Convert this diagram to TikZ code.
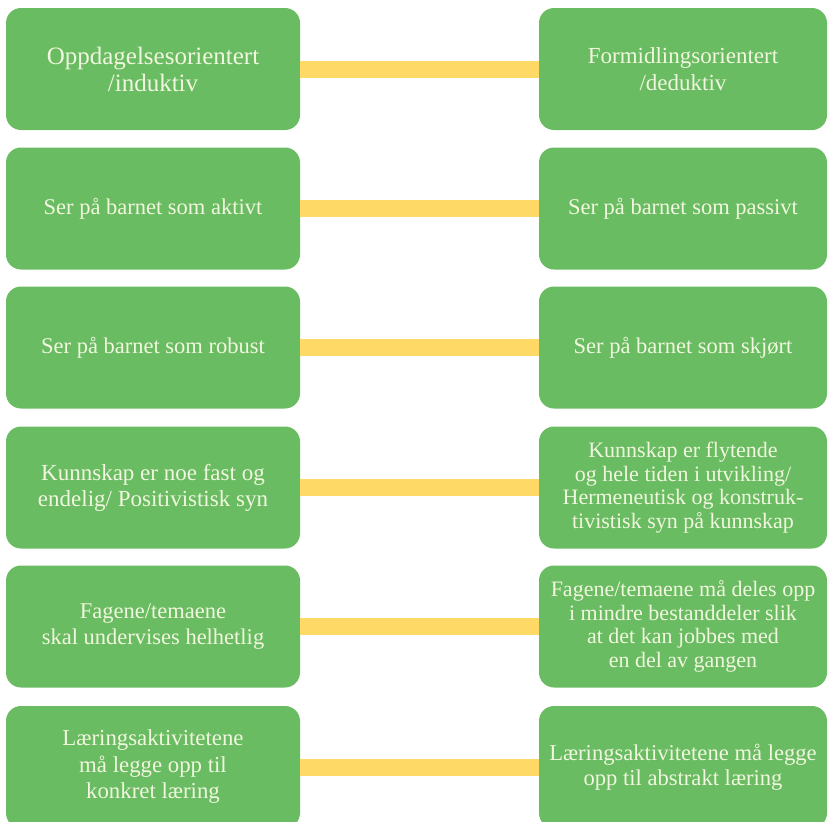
\documentclass[tikz,border=0pt]{standalone}
\usepackage{fontspec}
\setmainfont{Liberation Serif}
\definecolor{boxgreen}{HTML}{69BC61}
\definecolor{bandyellow}{HTML}{FFD966}
\definecolor{txtcream}{HTML}{F1F6DF}
\tikzset{
  lbox/.style={draw=none, fill=boxgreen, rounded corners=15pt, minimum width=294pt, minimum height=122pt, inner sep=0pt, align=center, text=txtcream},
  rbox/.style={lbox, minimum width=288pt},
  band/.style={draw=bandyellow, line width=17pt, line cap=butt},
  fa/.style={font=\fontsize{25}{27}\selectfont},
  fa2/.style={font=\fontsize{23}{27}\selectfont},
  fb/.style={font=\fontsize{22.5}{26.5}\selectfont},
  fc/.style={font=\fontsize{23}{26}\selectfont},
  fd/.style={font=\fontsize{22}{23.6}\selectfont},
  fe/.style={font=\fontsize{22.6}{24.5}\selectfont},
  ff/.style={font=\fontsize{22.8}{26.5}\selectfont}
}
\begin{document}
\begin{tikzpicture}[x=1pt,y=-1pt]
\clip (0,0) rectangle (828,822);
\useasboundingbox (0,0) rectangle (828,822);
\fill[white] (0,0) rectangle (828,822);
% left column
\node[lbox,fa] (L1) at (153,69) {Oppdagelsesorientert\\/induktiv};
\node[lbox,fb] (L2) at (153,208.5) {Ser på barnet som aktivt};
\node[lbox,fb] (L3) at (153,347.5) {Ser på barnet som robust};
\node[lbox,fc] (L4) at (153,487.5) {Kunnskap er noe fast og\\endelig/ Positivistisk syn};
\node[lbox,fb] (L5) at (153,626.5) {Fagene/temaene\\skal undervises helhetlig};
\node[lbox,ff] (L6) at (153,767) {Læringsaktivitetene\\må legge opp til\\konkret læring};
% right column
\node[rbox,fa2] (R1) at (683,69) {Formidlingsorientert\\/deduktiv};
\node[rbox,fb] (R2) at (683,208.5) {Ser på barnet som passivt};
\node[rbox,fb] (R3) at (683,347.5) {Ser på barnet som skjørt};
\node[rbox,fd] (R4) at (683,487.5) {Kunnskap er flytende\\og hele tiden i utvikling/\\Hermeneutisk og konstruk-\\tivistisk syn på kunnskap};
\node[rbox,fd] (R5) at (683,626.5) {Fagene/temaene må deles opp\\i mindre bestanddeler slik\\at det kan jobbes med\\en del av gangen};
\node[rbox,fe] (R6) at (683,767) {Læringsaktivitetene må legge\\opp til abstrakt læring};
% connectors
\draw[band] (L1.east) -- (R1.west);
\draw[band] (L2.east) -- (R2.west);
\draw[band] (L3.east) -- (R3.west);
\draw[band] (L4.east) -- (R4.west);
\draw[band] (L5.east) -- (R5.west);
\draw[band] (L6.east) -- (R6.west);
\end{tikzpicture}
\end{document}
